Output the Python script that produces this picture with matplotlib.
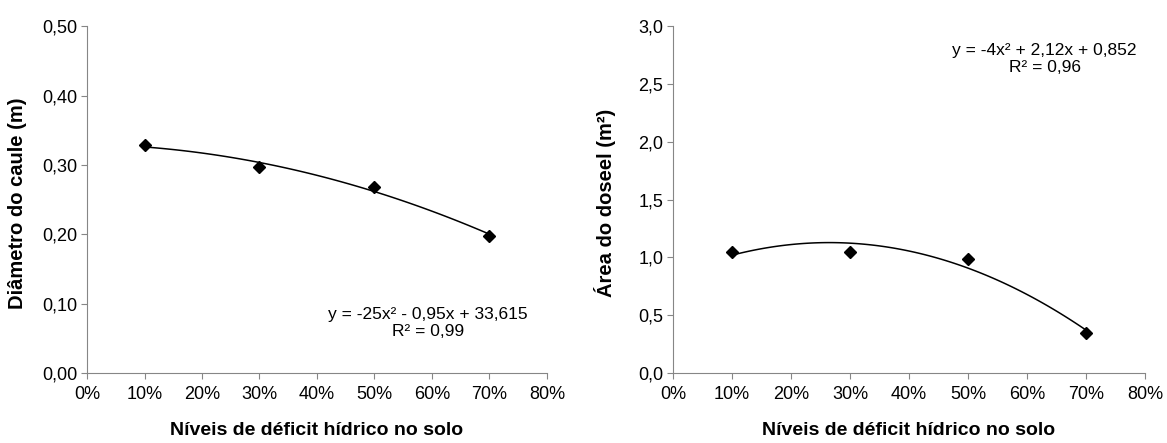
import numpy as np
import matplotlib.pyplot as plt
from matplotlib import font_manager
from matplotlib.ticker import FuncFormatter

names = {f.name for f in font_manager.fontManager.ttflist}
fam = 'DejaVu Sans'
for n in ['Liberation Sans Narrow', 'Arial Narrow', 'Liberation Sans']:
    if n in names:
        fam = n
        break
plt.rcParams['font.family'] = [fam, 'DejaVu Sans']

# data
deficit = [0.10, 0.30, 0.50, 0.70]
diametro = [0.328, 0.297, 0.268, 0.198]
area = [1.045, 1.045, 0.985, 0.345]

eq_diam = 'y = -25x² - 0,95x + 33,615\nR² = 0,99'
eq_area = 'y = -4x² + 2,12x + 0,852\nR² = 0,96'
xlab = 'Níveis de déficit hídrico no solo'

fig = plt.figure(figsize=(11.67, 4.43), dpi=100)
ax1 = fig.add_axes([0.0746, 0.158, 0.394, 0.783])
ax2 = fig.add_axes([0.5767, 0.158, 0.4045, 0.783])


def draw(ax, y, ymax, ystep, yfmt, ylabel, eq, eqpos, ylx):
    c = np.polyfit(deficit, y, 2)
    xs = np.linspace(deficit[0], deficit[-1], 100)
    ax.plot(xs, np.polyval(c, xs), color='black', lw=1.1)
    ax.plot(deficit, y, 'D', color='black', ms=6.5)
    ax.set_xlim(0, 0.8)
    ax.set_ylim(0, ymax)
    ax.set_xticks(np.arange(0, 0.81, 0.1))
    ax.set_yticks(np.arange(0, ymax + 1e-9, ystep))
    ax.xaxis.set_major_formatter(FuncFormatter(lambda v, p: '%d%%' % round(v * 100)))
    ax.yaxis.set_major_formatter(FuncFormatter(lambda v, p: (yfmt % v).replace('.', ',')))
    for s in ['top', 'right']:
        ax.spines[s].set_visible(False)
    for s in ['left', 'bottom']:
        ax.spines[s].set_color('#868686')
    ax.tick_params(colors='#868686', labelcolor='black', length=4, width=0.8,
                   labelsize=13, pad=3)
    ax.tick_params(axis='x', pad=5)
    ax.set_xlabel(xlab, fontsize=14, fontweight='bold')
    ax.set_ylabel(ylabel, fontsize=14.5, fontweight='bold')
    ax.xaxis.set_label_coords(0.5, -0.14)
    ax.yaxis.set_label_coords(ylx, 0.49)
    ax.text(eqpos[0], eqpos[1], eq, transform=ax.transAxes, ha='center', va='center',
            fontsize=12.5, linespacing=1.15, multialignment='center')


draw(ax1, diametro, 0.5, 0.1, '%.2f', 'Diâmetro do caule (m)', eq_diam, (0.742, 0.145), -0.13)
draw(ax2, area, 3.0, 0.5, '%.1f', 'Área do doseel (m²)', eq_area, (0.787, 0.905), -0.12)

fig.savefig('out.png', dpi=100)
